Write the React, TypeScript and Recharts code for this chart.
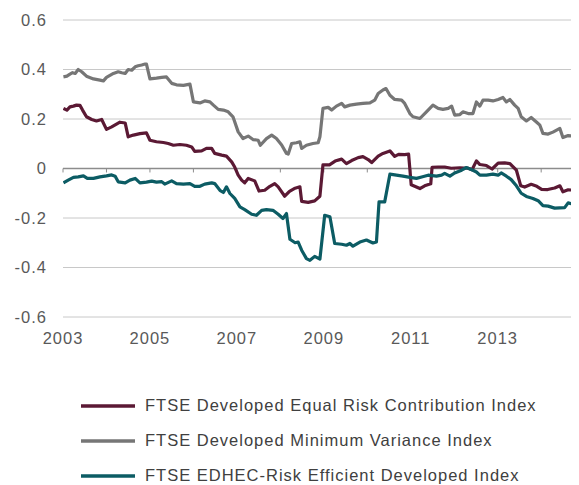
import React from "react";
import { LineChart, Line, XAxis, YAxis, CartesianGrid, ReferenceLine } from "recharts";

// [decimal year, value]
const ercSeries: [number, number][] = [
  [2003.01, 0.243], [2003.09, 0.236], [2003.16, 0.249], [2003.24, 0.252], [2003.31, 0.256], [2003.39, 0.255],
  [2003.45, 0.236], [2003.54, 0.209], [2003.66, 0.198], [2003.77, 0.192], [2003.89, 0.198], [2004.0, 0.158],
  [2004.12, 0.168], [2004.23, 0.179], [2004.31, 0.187], [2004.43, 0.184], [2004.5, 0.128], [2004.62, 0.135],
  [2004.77, 0.141], [2004.92, 0.144], [2005.0, 0.114], [2005.15, 0.108], [2005.31, 0.105], [2005.42, 0.101],
  [2005.54, 0.094], [2005.69, 0.097], [2005.84, 0.094], [2005.96, 0.087], [2006.03, 0.069], [2006.19, 0.071],
  [2006.3, 0.081], [2006.42, 0.081], [2006.49, 0.061], [2006.65, 0.054], [2006.76, 0.05], [2006.88, 0.027],
  [2006.95, 0.006], [2007.03, -0.027], [2007.11, -0.047], [2007.18, -0.058], [2007.26, -0.04], [2007.41, -0.05],
  [2007.51, -0.091], [2007.64, -0.088], [2007.76, -0.072], [2007.87, -0.061], [2007.95, -0.074], [2008.1, -0.112],
  [2008.21, -0.092], [2008.32, -0.081], [2008.45, -0.074], [2008.49, -0.133], [2008.64, -0.137], [2008.79, -0.131],
  [2008.91, -0.112], [2008.98, 0.015], [2009.13, 0.015], [2009.26, 0.03], [2009.41, 0.038], [2009.52, 0.02],
  [2009.64, 0.032], [2009.79, 0.044], [2009.9, 0.048], [2010.02, 0.036], [2010.1, 0.024], [2010.25, 0.05],
  [2010.36, 0.061], [2010.52, 0.071], [2010.63, 0.049], [2010.72, 0.057], [2010.86, 0.056], [2010.95, 0.058],
  [2011.01, -0.066], [2011.09, -0.072], [2011.21, -0.081], [2011.32, -0.07], [2011.46, -0.062], [2011.49, 0.005],
  [2011.63, 0.006], [2011.78, 0.006], [2011.93, 0.001], [2012.13, 0.003], [2012.32, 0.001], [2012.41, -0.005],
  [2012.51, 0.031], [2012.59, 0.016], [2012.74, 0.012], [2012.87, -0.002], [2013.01, 0.022], [2013.16, 0.023],
  [2013.28, 0.02], [2013.43, -0.007], [2013.53, -0.07], [2013.62, -0.075], [2013.77, -0.064], [2013.9, -0.072],
  [2014.01, -0.084], [2014.15, -0.085], [2014.31, -0.079], [2014.43, -0.07], [2014.5, -0.094], [2014.62, -0.086],
  [2014.85, -0.089],
];

const mvSeries: [number, number][] = [
  [2003.01, 0.37], [2003.09, 0.373], [2003.16, 0.381], [2003.22, 0.387], [2003.28, 0.384], [2003.35, 0.4],
  [2003.43, 0.391], [2003.54, 0.373], [2003.7, 0.362], [2003.85, 0.357], [2003.93, 0.354], [2004.0, 0.368],
  [2004.16, 0.384], [2004.27, 0.391], [2004.35, 0.387], [2004.43, 0.384], [2004.5, 0.4], [2004.58, 0.397],
  [2004.66, 0.411], [2004.73, 0.415], [2004.81, 0.418], [2004.89, 0.422], [2004.92, 0.422], [2005.0, 0.362],
  [2005.15, 0.365], [2005.27, 0.368], [2005.38, 0.37], [2005.5, 0.344], [2005.61, 0.338], [2005.77, 0.336],
  [2005.92, 0.341], [2006.0, 0.269], [2006.15, 0.265], [2006.26, 0.273], [2006.38, 0.269], [2006.46, 0.256],
  [2006.57, 0.239], [2006.69, 0.236], [2006.8, 0.229], [2006.91, 0.209], [2007.03, 0.148], [2007.14, 0.121],
  [2007.26, 0.131], [2007.37, 0.117], [2007.49, 0.114], [2007.54, 0.094], [2007.68, 0.121], [2007.8, 0.135],
  [2007.91, 0.121], [2008.03, 0.095], [2008.14, 0.061], [2008.18, 0.058], [2008.26, 0.101], [2008.37, 0.104],
  [2008.45, 0.108], [2008.49, 0.081], [2008.6, 0.094], [2008.75, 0.101], [2008.87, 0.104], [2008.91, 0.128],
  [2008.98, 0.243], [2009.1, 0.247], [2009.18, 0.236], [2009.29, 0.252], [2009.41, 0.263], [2009.48, 0.249],
  [2009.6, 0.256], [2009.75, 0.26], [2009.9, 0.263], [2010.06, 0.265], [2010.17, 0.276], [2010.25, 0.303],
  [2010.36, 0.317], [2010.43, 0.323], [2010.52, 0.296], [2010.63, 0.279], [2010.79, 0.276], [2010.86, 0.263],
  [2010.98, 0.222], [2011.05, 0.209], [2011.21, 0.202], [2011.36, 0.229], [2011.51, 0.256], [2011.63, 0.243],
  [2011.74, 0.239], [2011.86, 0.243], [2011.94, 0.252], [2012.01, 0.216], [2012.13, 0.218], [2012.2, 0.229],
  [2012.32, 0.222], [2012.43, 0.222], [2012.51, 0.269], [2012.59, 0.252], [2012.66, 0.276], [2012.78, 0.276],
  [2012.89, 0.273], [2013.01, 0.279], [2013.12, 0.287], [2013.2, 0.269], [2013.28, 0.279], [2013.39, 0.256],
  [2013.47, 0.243], [2013.54, 0.209], [2013.66, 0.192], [2013.77, 0.206], [2013.89, 0.188], [2013.97, 0.175],
  [2014.04, 0.142], [2014.16, 0.139], [2014.27, 0.147], [2014.43, 0.162], [2014.5, 0.125], [2014.62, 0.133],
  [2014.73, 0.131], [2014.86, 0.125],
];

const edhecSeries: [number, number][] = [
  [2003.01, -0.058], [2003.12, -0.047], [2003.24, -0.036], [2003.35, -0.034], [2003.47, -0.03], [2003.56, -0.04],
  [2003.7, -0.04], [2003.85, -0.034], [2004.0, -0.03], [2004.12, -0.026], [2004.2, -0.031], [2004.27, -0.054],
  [2004.43, -0.058], [2004.54, -0.047], [2004.66, -0.04], [2004.77, -0.058], [2004.92, -0.055], [2005.04, -0.051],
  [2005.15, -0.055], [2005.27, -0.053], [2005.34, -0.063], [2005.5, -0.05], [2005.61, -0.061], [2005.77, -0.063],
  [2005.92, -0.061], [2006.03, -0.072], [2006.15, -0.072], [2006.26, -0.063], [2006.42, -0.058], [2006.49, -0.061],
  [2006.61, -0.088], [2006.69, -0.097], [2006.76, -0.074], [2006.84, -0.101], [2006.95, -0.121], [2007.07, -0.155],
  [2007.18, -0.166], [2007.34, -0.185], [2007.45, -0.189], [2007.57, -0.169], [2007.68, -0.166], [2007.83, -0.169],
  [2007.95, -0.185], [2008.06, -0.202], [2008.14, -0.182], [2008.22, -0.286], [2008.34, -0.3], [2008.41, -0.297],
  [2008.49, -0.33], [2008.6, -0.364], [2008.68, -0.371], [2008.79, -0.355], [2008.91, -0.366], [2009.02, -0.189],
  [2009.14, -0.195], [2009.25, -0.303], [2009.41, -0.306], [2009.52, -0.31], [2009.6, -0.303], [2009.67, -0.314],
  [2009.83, -0.297], [2009.98, -0.289], [2010.13, -0.301], [2010.21, -0.297], [2010.27, -0.135], [2010.4, -0.135],
  [2010.52, -0.023], [2010.67, -0.027], [2010.82, -0.031], [2010.98, -0.036], [2011.13, -0.04], [2011.25, -0.034],
  [2011.4, -0.027], [2011.59, -0.031], [2011.71, -0.027], [2011.78, -0.02], [2011.9, -0.031], [2012.01, -0.018],
  [2012.17, -0.007], [2012.28, 0.004], [2012.43, -0.007], [2012.51, -0.014], [2012.59, -0.027], [2012.74, -0.027],
  [2012.89, -0.023], [2013.01, -0.027], [2013.08, -0.018], [2013.2, -0.031], [2013.31, -0.045], [2013.43, -0.07],
  [2013.54, -0.1], [2013.66, -0.113], [2013.81, -0.121], [2013.93, -0.13], [2014.04, -0.15], [2014.16, -0.152],
  [2014.31, -0.16], [2014.43, -0.159], [2014.54, -0.158], [2014.62, -0.139], [2014.73, -0.144], [2014.85, -0.149],
];

const seriesNames = [
  "FTSE Developed Equal Risk Contribution Index",
  "FTSE Developed Minimum Variance Index",
  "FTSE EDHEC-Risk Efficient Developed Index",
];
const seriesColors = ["#5B1934", "#767676", "#0C5C64"];
const xTicks = [2003, 2005, 2007, 2009, 2011, 2013];
const yearMarks = [2003, 2004, 2005, 2006, 2007, 2008, 2009, 2010, 2011, 2012, 2013, 2014];
const yTicks = [-0.6, -0.4, -0.2, 0, 0.2, 0.4, 0.6];

const toRows = (s: [number, number][]) => s.map(([t, v]) => ({ t, v }));
const allSeries = [ercSeries, mvSeries, edhecSeries].map(toRows);

const FONT = "'Liberation Sans', Arial, sans-serif";
const tickStyle = { fill: "#595959", fontSize: 16.5, fontFamily: FONT, letterSpacing: 1 };

export default function App() {
  return (
    <div style={{ position: "relative", width: 571, height: 477, fontFamily: FONT }}>
      <LineChart width={571} height={360} margin={{ top: 12, right: 0, bottom: 0, left: 0 }}>
        <CartesianGrid vertical={false} stroke="#C8C8C8" strokeWidth={1} />
        <XAxis
          type="number"
          dataKey="t"
          domain={[2003, 2014.87]}
          ticks={xTicks}
          allowDataOverflow
          axisLine={false}
          tickLine={false}
          tickSize={6}
          tickMargin={9}
          height={51}
          tick={tickStyle}
        />
        <YAxis
          type="number"
          domain={[-0.6, 0.6]}
          ticks={yTicks}
          axisLine={false}
          tickLine={false}
          tickSize={6}
          tickMargin={10}
          width={55}
          tickFormatter={(v: number) => (Math.abs(v) < 1e-9 ? "0" : v.toFixed(1))}
          tick={tickStyle}
        />
        <ReferenceLine y={0} stroke="#8C8C8C" strokeWidth={1.5} />
        {yearMarks.map((yr) => (
          <ReferenceLine
            key={yr}
            segment={[{ x: yr, y: 0 }, { x: yr, y: -0.016 }]}
            stroke="#8C8C8C"
            strokeWidth={1}
          />
        ))}
        {allSeries.map((rows, i) => (
          <Line
            key={seriesNames[i]}
            data={rows}
            dataKey="v"
            name={seriesNames[i]}
            type="linear"
            stroke={seriesColors[i]}
            strokeWidth={3.2}
            dot={false}
            activeDot={false}
            isAnimationActive={false}
            strokeLinejoin="round"
          />
        ))}
      </LineChart>
      <div style={{ position: "absolute", left: 73, top: 380 }}>
        {seriesNames.map((n, i) => (
          <div key={n} style={{ display: "flex", alignItems: "center", height: 35 }}>
            <svg width={54} height={6} style={{ marginRight: 10 }}>
              <line x1={0} y1={3} x2={54} y2={3} stroke={seriesColors[i]} strokeWidth={3.5} />
            </svg>
            <span style={{ fontSize: 16.5, letterSpacing: 1, color: "#404040", fontFamily: FONT, whiteSpace: "nowrap" }}>
              {n}
            </span>
          </div>
        ))}
      </div>
    </div>
  );
}
